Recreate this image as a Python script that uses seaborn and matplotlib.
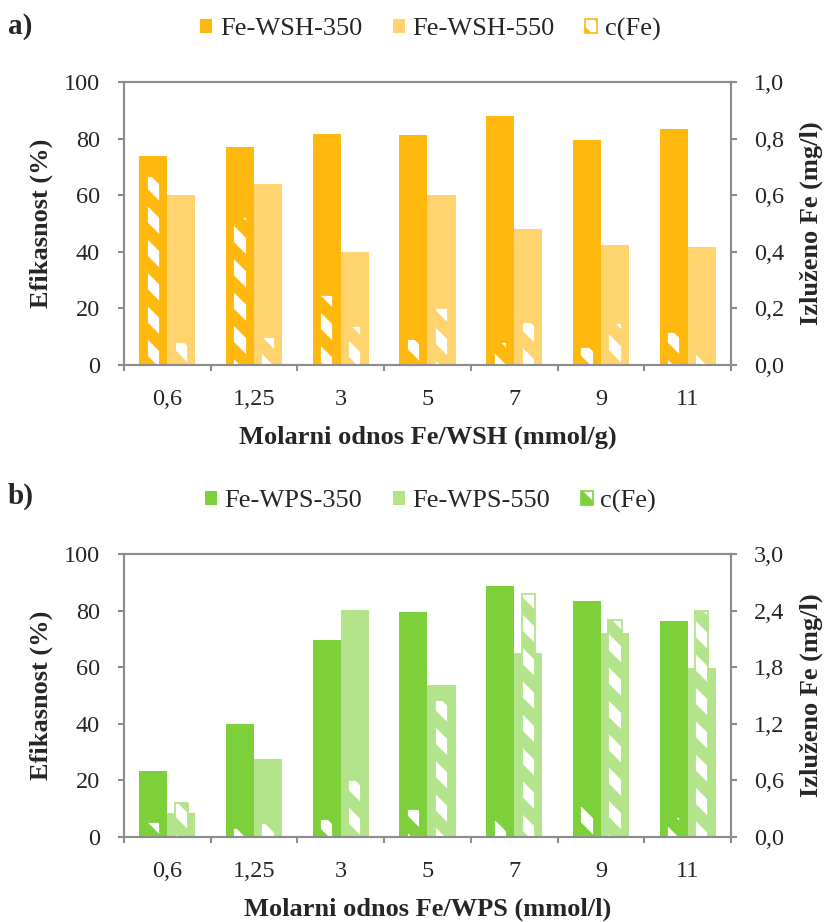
import numpy as np
import pandas as pd
import matplotlib
matplotlib.use("Agg")
import matplotlib.pyplot as plt
import seaborn as sns
from matplotlib.patches import Patch
from matplotlib.legend_handler import HandlerTuple
from matplotlib.ticker import FuncFormatter

# ---------------- data ----------------
categories = ['0,6', '1,25', '3', '5', '7', '9', '11']

wsh_350 = [73.7, 77.0, 81.6, 81.3, 87.9, 79.4, 83.5]
wsh_550 = [60.0, 63.9, 40.0, 60.0, 48.1, 42.4, 41.8]
wsh_fe_350 = [0.667, 0.522, 0.246, 0.092, 0.080, 0.065, 0.116]
wsh_fe_550 = [0.080, 0.100, 0.138, 0.200, 0.151, 0.147, 0.052]

wps_350 = [23.4, 40.0, 69.7, 79.4, 88.6, 83.3, 76.4]
wps_550 = [8.5, 27.6, 80.1, 53.8, 64.9, 72.0, 59.8]
wps_fe_350 = [0.159, 0.095, 0.194, 0.300, 0.180, 0.329, 0.212]
wps_fe_550 = [0.357, 0.145, 0.608, 1.45, 2.58, 2.30, 2.40]

left_ticks = [0, 20, 40, 60, 80, 100]
right_ticks_a = [0.0, 0.2, 0.4, 0.6, 0.8, 1.0]
right_ticks_b = [0.0, 0.6, 1.2, 1.8, 2.4, 3.0]

# ---------------- style ----------------
sns.set_style("white")
plt.rcParams['font.family'] = ['Liberation Serif', 'DejaVu Serif']
HATCH_LW = 8.2
plt.rcParams['hatch.linewidth'] = HATCH_LW
GREY = '#8c8c8c'

fig = plt.figure(figsize=(8.28, 9.22), dpi=100)
W, H = 828, 922


def make_axes(top_px, bottom_px, left_px=124, right_px=731):
    return fig.add_axes([left_px / W, 1 - bottom_px / H,
                         (right_px - left_px) / W, (bottom_px - top_px) / H])


def comma_fmt(v, pos):
    return f"{v:.1f}".replace('.', ',')


def hatchify(p):
    p.set_hatch('\\')
    p.set_edgecolor('white')
    p.set_linewidth(0)
    if hasattr(p, 'set_hatch_linewidth'):
        p.set_hatch_linewidth(HATCH_LW)


def draw_panel(ax, s350, s550, fe350, fe550, names, colors, rticks, xlabel, letter, letter_y):
    n350, n550 = names
    c1, c2 = colors
    df = pd.DataFrame({'cat': categories * 2,
                       'val': s350 + s550,
                       'series': [n350] * len(categories) + [n550] * len(categories)})
    sns.barplot(data=df, x='cat', y='val', hue='series', palette=[c1, c2],
                width=0.646, gap=0, saturation=1, errorbar=None,
                linewidth=0, legend=False, ax=ax)
    ax2 = ax.twinx()
    dfe = pd.DataFrame({'cat': categories * 2,
                        'val': fe350 + fe550,
                        'series': ['fe350'] * len(categories) + ['fe550'] * len(categories)})
    sns.barplot(data=dfe, x='cat', y='val', hue='series', palette=[c1, c2],
                width=0.646, gap=0.53, saturation=1, errorbar=None,
                linewidth=0, legend=False, ax=ax2)
    for cont in ax2.containers:
        for p in cont:
            hatchify(p)
    # outlines of hatched bars
    sns.barplot(data=dfe, x='cat', y='val', hue='series', palette=[c1, c2],
                width=0.646, gap=0.53, saturation=1, errorbar=None,
                fill=False, linewidth=1.3, legend=False, ax=ax2)

    ax.set_ylim(0, 100)
    ax2.set_ylim(rticks[0], rticks[-1])
    ax.set_xlim(-0.5, len(categories) - 0.5)
    ax.set_yticks(left_ticks)
    ax2.set_yticks(rticks)
    ax2.yaxis.set_major_formatter(FuncFormatter(comma_fmt))
    ax.set_xticks(range(len(categories)))
    ax.set_xticklabels(categories)
    ax.set_xticks(np.arange(-0.5, len(categories), 1), minor=True)
    ax.set_xlabel('')
    ax.set_ylabel('')
    ax2.set_xlabel('')
    ax2.set_ylabel('')
    ax.tick_params(axis='x', which='major', length=0, pad=17, labelsize=17.5)
    ax.tick_params(axis='x', which='minor', length=4.5, width=1.5, color=GREY,
                   direction='out', bottom=True)
    ax.tick_params(axis='y', length=4.5, width=1.5, color=GREY, direction='out',
                   left=True, pad=13, labelsize=17.5)
    ax2.tick_params(axis='y', length=4.5, width=1.5, color=GREY, direction='out',
                    right=True, pad=12, labelsize=17.5)
    ax2.tick_params(axis='x', which='both', bottom=False, top=False,
                    labelbottom=False, labeltop=False)
    for a in (ax, ax2):
        for s in a.spines.values():
            s.set_visible(True)
            s.set_color(GREY)
            s.set_linewidth(1.5)

    ax.text(0.5, -0.255, xlabel, transform=ax.transAxes, ha='center', va='center',
            fontsize=19, fontweight='bold')
    ax.text(-0.136, 0.5, 'Efikasnost (%)', transform=ax.transAxes, rotation=90,
            ha='center', va='center', fontsize=19, fontweight='bold')
    ax.text(1.133, 0.5, 'Izluženo Fe (mg/l)', transform=ax.transAxes, rotation=90,
            ha='center', va='center', fontsize=19, fontweight='bold')
    fig.text(8 / W, 1 - letter_y / H, letter, ha='left', va='center',
             fontsize=21, fontweight='bold')

    hp = Patch(facecolor=c1, lw=0)
    hatchify(hp)
    handles = [Patch(facecolor=c1, lw=0), Patch(facecolor=c2, lw=0),
               (hp, Patch(fill=False, edgecolor=c1, lw=1.2))]
    ax2.legend(handles, [n350, n550, 'c(Fe)'],
               handler_map={tuple: HandlerTuple(ndivide=1, pad=0)},
               loc='center', bbox_to_anchor=(0.505, 1.186), ncol=3, frameon=False,
               fontsize=19, handlelength=0.45, handleheight=0.45,
               handletextpad=0.3, columnspacing=1.15)
    return ax2


ax_a = make_axes(82, 365)
draw_panel(ax_a, wsh_350, wsh_550, wsh_fe_350, wsh_fe_550,
           ('Fe-WSH-350', 'Fe-WSH-550'), ('#FFB80D', '#FFD46E'),
           right_ticks_a, 'Molarni odnos Fe/WSH (mmol/g)', 'a)', 26)

ax_b = make_axes(554, 837)
draw_panel(ax_b, wps_350, wps_550, wps_fe_350, wps_fe_550,
           ('Fe-WPS-350', 'Fe-WPS-550'), ('#7ED03B', '#B3E38A'),
           right_ticks_b, 'Molarni odnos Fe/WPS (mmol/l)', 'b)', 496)

fig.savefig('out.png', dpi=100)
